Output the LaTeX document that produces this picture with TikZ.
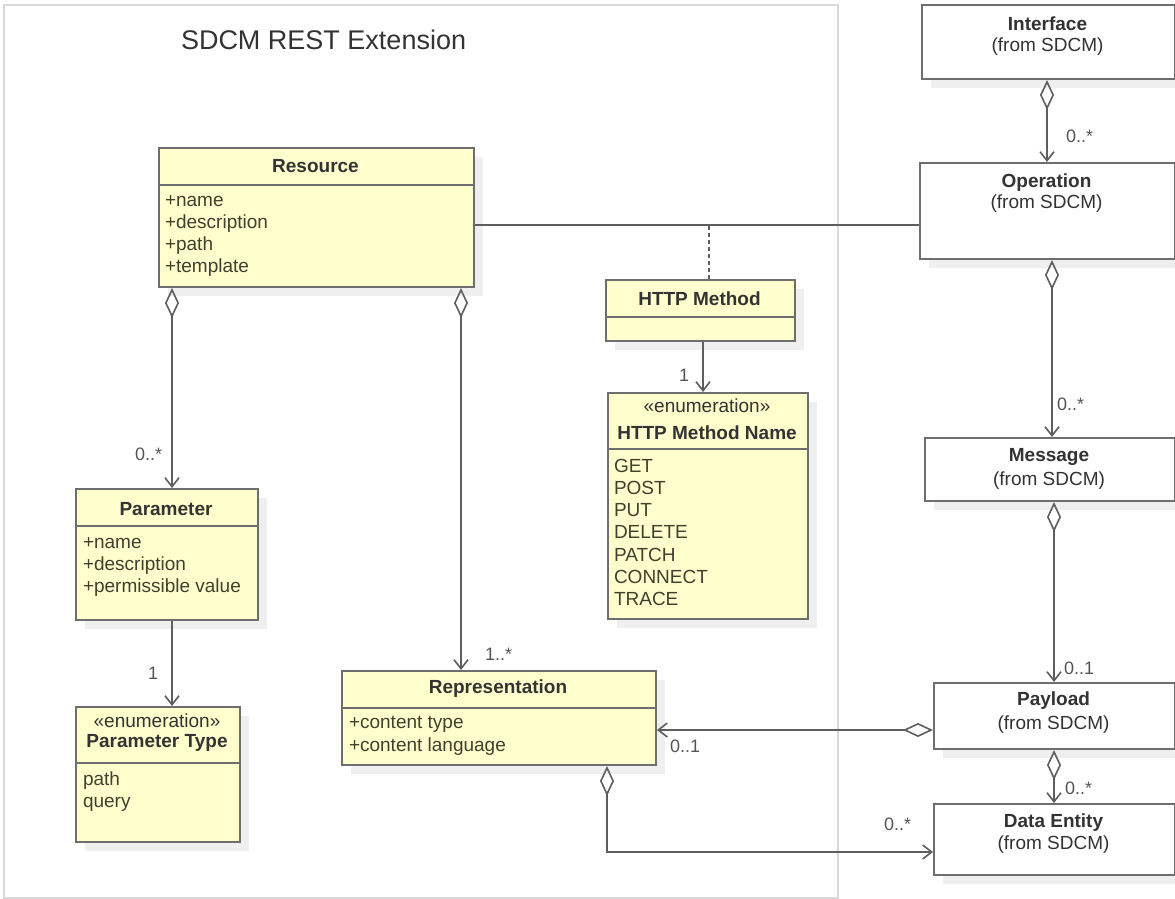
\documentclass[tikz,border=0pt]{standalone}
\usepackage{fontspec}
\setmainfont{Liberation Sans}
\usetikzlibrary{arrows.meta,shadows}
\definecolor{boxfill}{HTML}{FFFFCE}
\definecolor{boxline}{HTML}{6E6E6E}
\definecolor{lineC}{HTML}{5E5E5E}
\definecolor{txt}{HTML}{333333}
\definecolor{attr}{HTML}{40402F}
\definecolor{multC}{HTML}{555555}
\definecolor{frameC}{HTML}{DADADA}
\definecolor{shad}{HTML}{EFEFEF}
\tikzset{
  plain/.style={inner sep=0pt, outer sep=0pt},
  cls/.style={draw=boxline, line width=2pt, fill=boxfill, anchor=north west, inner sep=0pt,
    drop shadow={shadow xshift=9pt, shadow yshift=-9pt, fill=shad, opacity=1}},
  ext/.style={cls, fill=white},
  hdr/.style={draw=boxline, line width=2pt},
  ttl/.style={plain, font=\bfseries\fontsize{19}{22}\selectfont, text=txt, anchor=base},
  sub/.style={plain, font=\fontsize{19}{22}\selectfont, text=txt, anchor=base},
  att/.style={plain, font=\fontsize{19}{22}\selectfont, text=attr, anchor=base west},
  mult/.style={plain, font=\fontsize{18}{22}\selectfont, text=multC, anchor=base west},
  conn/.style={draw=lineC, line width=1.6pt},
  agg/.style={conn, {Diamond[open,length=30pt,width=14pt]}-{Straight Barb[length=9pt,width=14pt]}},
  nav/.style={conn, -{Straight Barb[length=9pt,width=14pt]}},
  dotconn/.style={draw=lineC, line width=2.2pt, dash pattern=on 4pt off 3pt},
}
\begin{document}
\begin{tikzpicture}[x=1pt,y=-1pt]
\useasboundingbox (0,0) rectangle (1175,899);
\fill[white] (0,0) rectangle (1175,899);

% package frame
\node[draw=frameC, line width=2pt, anchor=north west, inner sep=0pt,
  minimum width=834pt, minimum height=893pt] (pkg) at (3,4) {};
\node[plain, font=\fontsize{27}{30}\selectfont, text=txt, anchor=base west] (pkgT) at (181,50) {SDCM REST Extension};

% Resource
\node[cls, minimum width=315pt, minimum height=139pt] (res) at (158,147) {};
\draw[hdr] ([yshift=-38pt]res.north west) -- ([yshift=-38pt]res.north east);
\node[ttl] (resT) at (315.5,172) {Resource};
\node[att] (res1) at (165,206) {+name};
\node[att] (res2) at (165,228) {+description};
\node[att] (res3) at (165,250) {+path};
\node[att] (res4) at (165,272) {+template};

% Parameter
\node[cls, minimum width=182pt, minimum height=131pt] (par) at (75,488) {};
\draw[hdr] ([yshift=-38pt]par.north west) -- ([yshift=-38pt]par.north east);
\node[ttl] (parT) at (166,515) {Parameter};
\node[att] (par1) at (83,548) {+name};
\node[att] (par2) at (83,570) {+description};
\node[att] (par3) at (83,592) {+permissible value};

% Parameter Type
\node[cls, minimum width=164pt, minimum height=135pt] (pt) at (75,706) {};
\draw[hdr] ([yshift=-57pt]pt.north west) -- ([yshift=-57pt]pt.north east);
\node[sub] (ptS) at (157,727) {«enumeration»};
\node[ttl] (ptT) at (157,747) {Parameter Type};
\node[att] (pt1) at (83,785) {path};
\node[att] (pt2) at (83,807) {query};

% Representation
\node[cls, minimum width=314pt, minimum height=94pt] (rep) at (341,670) {};
\draw[hdr] ([yshift=-38pt]rep.north west) -- ([yshift=-38pt]rep.north east);
\node[ttl] (repT) at (498,693) {Representation};
\node[att] (rep1) at (349,728) {+content type};
\node[att] (rep2) at (349,751) {+content language};

% HTTP Method
\node[cls, minimum width=189pt, minimum height=61pt] (hm) at (605,279) {};
\draw[hdr] ([yshift=-38pt]hm.north west) -- ([yshift=-38pt]hm.north east);
\node[ttl] (hmT) at (699.5,305) {HTTP Method};

% HTTP Method Name
\node[cls, minimum width=200pt, minimum height=226pt] (hmn) at (607,392) {};
\draw[hdr] ([yshift=-57pt]hmn.north west) -- ([yshift=-57pt]hmn.north east);
\node[sub] (hmnS) at (707,412) {«enumeration»};
\node[ttl] (hmnT) at (707,439) {HTTP Method Name};
\node[att] (h1) at (614,472) {GET};
\node[att] (h2) at (614,494.3) {POST};
\node[att] (h3) at (614,516.6) {PUT};
\node[att] (h4) at (614,538.9) {DELETE};
\node[att] (h5) at (614,561.2) {PATCH};
\node[att] (h6) at (614,583.5) {CONNECT};
\node[att] (h7) at (614,605.8) {TRACE};

% SDCM classes
\node[ext, minimum width=253pt, minimum height=74pt] (iface) at (921,4) {};
\node[ttl] (ifT) at (1047.5,31) {Interface};
\node[sub] (ifS) at (1047.5,52) {(from SDCM)};

\node[ext, minimum width=255pt, minimum height=96pt] (op) at (919,162) {};
\node[ttl] (opT) at (1046.5,187) {Operation};
\node[sub] (opS) at (1046.5,208) {(from SDCM)};

\node[ext, minimum width=250pt, minimum height=63pt] (msg) at (924,437) {};
\node[ttl] (msgT) at (1049,461) {Message};
\node[sub] (msgS) at (1049,485) {(from SDCM)};

\node[ext, minimum width=241pt, minimum height=66pt] (pay) at (933,682) {};
\node[ttl] (payT) at (1053.5,705) {Payload};
\node[sub] (payS) at (1053.5,729) {(from SDCM)};

\node[ext, minimum width=241pt, minimum height=71pt] (de) at (933,803) {};
\node[ttl] (deT) at (1053.5,827) {Data Entity};
\node[sub] (deS) at (1053.5,849) {(from SDCM)};

% connectors
\draw[agg] ([xshift=14pt]res.south west) -- ([xshift=97pt]par.north west);
\draw[agg] ([xshift=303pt]res.south west) -- ([xshift=120pt]rep.north west);
\draw[nav] ([xshift=97pt]par.south west) -- ([xshift=97pt]pt.north west);
\draw[nav] ([xshift=98pt]hm.south west) -- ([xshift=96pt]hmn.north west);
\draw[agg] ([xshift=126pt]iface.south west) -- ([xshift=128pt]op.north west);
\draw[agg] ([xshift=133pt]op.south west) -- ([xshift=128pt]msg.north west);
\draw[agg] ([xshift=130pt]msg.south west) -- ([xshift=121pt]pay.north west);
\draw[agg] ([xshift=121pt]pay.south west) -- ([xshift=121pt]de.north west);
\draw[agg] ([yshift=-48pt]pay.north west) -- ([yshift=-60pt]rep.north east);
\draw[agg] ([xshift=266pt]rep.south west) |- ([yshift=-49pt]de.north west);

\coordinate (ro) at ([yshift=-78pt]res.north east);
\draw[conn] (ro) -- (ro -| op.west);
\draw[dotconn] ([xshift=8.5pt]hm.north) -- ([xshift=8.5pt]hm.north |- ro);

% multiplicities
\node[mult] (m1) at (1066,142) {0..*};
\node[mult] (m2) at (1057,410) {0..*};
\node[mult] (m3) at (1064,674) {0..1};
\node[mult] (m4) at (1065,794) {0..*};
\node[mult] (m5) at (884,830) {0..*};
\node[mult] (m6) at (670,752) {0..1};
\node[mult] (m7) at (485,660) {1..*};
\node[mult] (m8) at (135,460) {0..*};
\node[mult] (m9) at (148,679) {1};
\node[mult] (m10) at (679,381) {1};
\end{tikzpicture}
\end{document}
